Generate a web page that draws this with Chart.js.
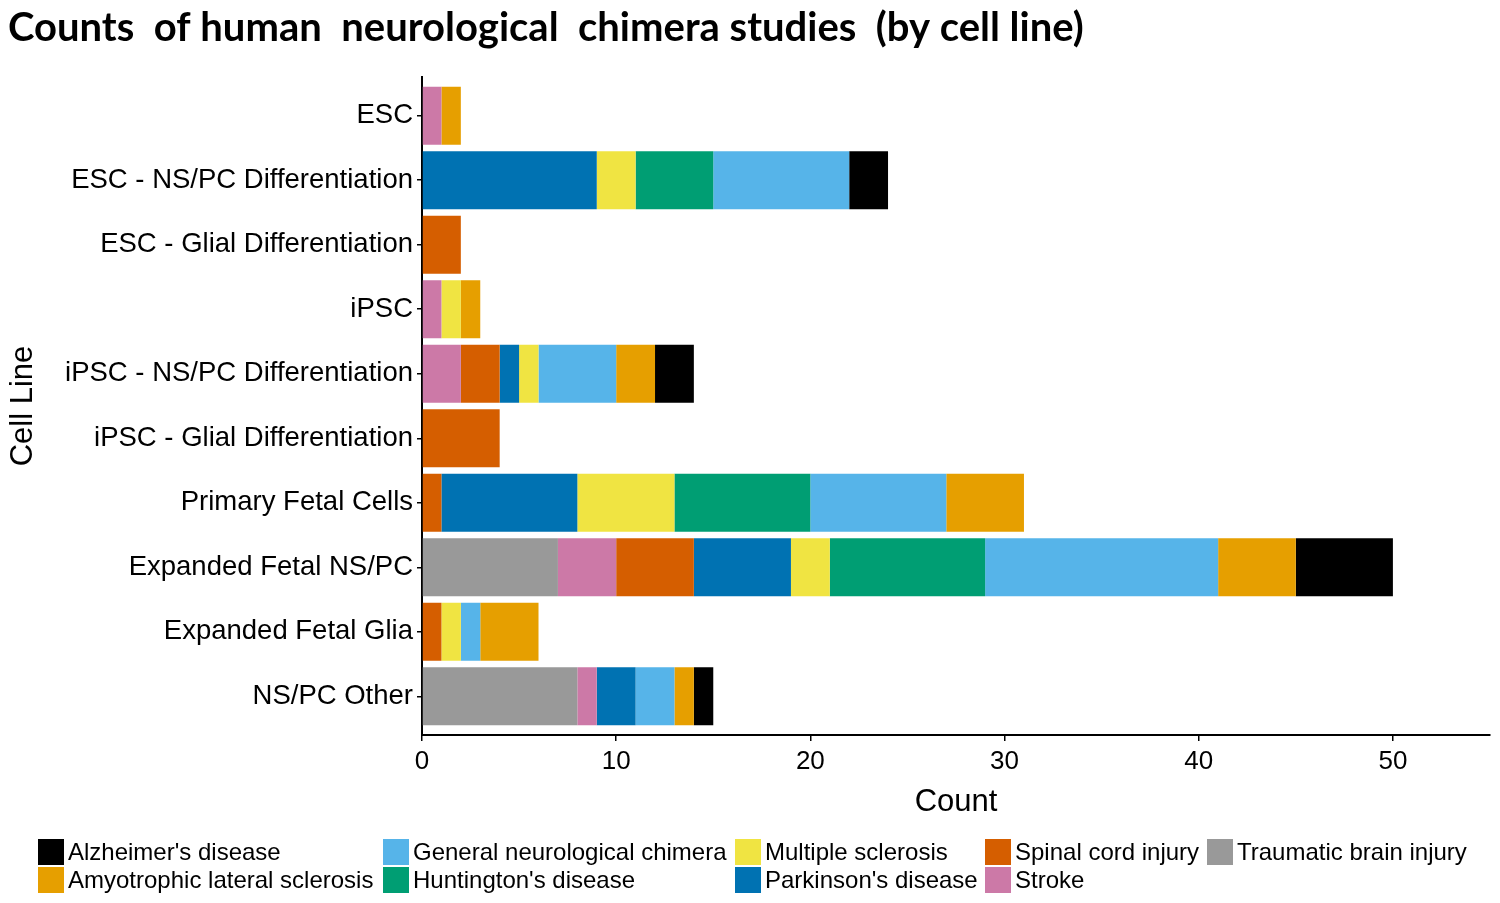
<!DOCTYPE html>
<html>
<head>
<meta charset="utf-8">
<script src="https://cdn.jsdelivr.net/npm/chart.js@4.4.1/dist/chart.umd.min.js"></script>
<style>
body { margin: 0; background: #fff; }
#wrap { position: relative; width: 1500px; height: 903px; }
#grafico { position: absolute; left: 0; top: 0; }
#legenda {
    position: absolute; left: 38px; top: 838px;
    display: grid;
    grid-template-columns: 345px 352px 250px 222px auto;
    grid-template-rows: 28px 28px;
    grid-auto-flow: column;
    font-family: "Liberation Sans", Arial, sans-serif;
    font-size: 24px; color: #000;
}
.item { display: flex; align-items: center; white-space: nowrap; }
.cor { width: 26px; height: 26px; margin-right: 4px; flex: none; }
</style>
</head>
<body>
<div id="wrap">
    <canvas id="grafico" width="1500" height="903"></canvas>
    <div id="legenda"></div>
</div>
<script>
// linhas celulares (de cima para baixo)
var cellLines = ['ESC', 'ESC - NS/PC Differentiation', 'ESC - Glial Differentiation', 'iPSC',
    'iPSC - NS/PC Differentiation', 'iPSC - Glial Differentiation', 'Primary Fetal Cells',
    'Expanded Fetal NS/PC', 'Expanded Fetal Glia', 'NS/PC Other'];

// contagens por doença, na mesma ordem das linhas
var traumaticBrain = [0, 0, 0, 0, 0, 0, 0, 7, 0, 8];
var stroke         = [1, 0, 0, 1, 2, 0, 0, 3, 0, 1];
var spinalCord     = [0, 0, 2, 0, 2, 4, 1, 4, 1, 0];
var parkinsons     = [0, 9, 0, 0, 1, 0, 7, 5, 0, 2];
var multipleScl    = [0, 2, 0, 1, 1, 0, 5, 2, 1, 0];
var huntingtons    = [0, 4, 0, 0, 0, 0, 7, 8, 0, 0];
var generalChim    = [0, 7, 0, 0, 4, 0, 7, 12, 1, 2];
var als            = [1, 0, 0, 1, 2, 0, 4, 4, 3, 1];
var alzheimers     = [0, 2, 0, 0, 2, 0, 0, 5, 0, 1];

var xTicks = [0, 10, 20, 30, 40, 50];

// ordem de empilhamento (da esquerda para a direita)
var datasets = [
    { label: 'Traumatic brain injury', data: traumaticBrain, backgroundColor: '#999999' },
    { label: 'Stroke', data: stroke, backgroundColor: '#CC79A7' },
    { label: 'Spinal cord injury', data: spinalCord, backgroundColor: '#D55E00' },
    { label: "Parkinson's disease", data: parkinsons, backgroundColor: '#0072B2' },
    { label: 'Multiple sclerosis', data: multipleScl, backgroundColor: '#F0E442' },
    { label: "Huntington's disease", data: huntingtons, backgroundColor: '#009E73' },
    { label: 'General neurological chimera', data: generalChim, backgroundColor: '#56B4E9' },
    { label: 'Amyotrophic lateral sclerosis', data: als, backgroundColor: '#E69F00' },
    { label: "Alzheimer's disease", data: alzheimers, backgroundColor: '#000000' }
];

var fonte = '"Liberation Sans", Arial, sans-serif';

var options = {
    responsive: false,
    animation: false,
    indexAxis: 'y',
    layout: { padding: { left: 8, right: 10, top: 0, bottom: 78 } },
    datasets: { bar: { categoryPercentage: 0.9, barPercentage: 1.0, borderWidth: 0 } },
    plugins: {
        legend: { display: false },
        tooltip: { enabled: false },
        title: {
            display: true,
            text: 'Counts  of human  neurological  chimera studies  (by cell line)',
            align: 'start',
            color: '#000',
            font: { family: 'Lato', weight: 'bold', size: 40, lineHeight: 1.2 },
            padding: { top: 4, bottom: 25 }
        }
    },
    scales: {
        x: {
            stacked: true,
            min: 0,
            max: 55,
            afterFit: function(scale) { scale.height = 90; },
            afterBuildTicks: function(scale) {
                scale.ticks = xTicks.map(v => ({ value: v }));
            },
            border: { display: true, color: '#000', width: 2 },
            grid: { display: true, drawOnChartArea: false, drawTicks: true, tickLength: 6, color: '#000', lineWidth: 1.5 },
            ticks: { color: '#000', padding: 5, font: { family: fonte, size: 26 } },
            title: {
                display: true, text: 'Count', color: '#000',
                font: { family: fonte, size: 31, lineHeight: 1.2 },
                padding: { top: 0, bottom: 4 }
            }
        },
        y: {
            stacked: true,
            // expansão de 0.6 categoria em cada ponta, como no ggplot
            afterBuildTicks: function(scale) {
                scale._startValue = -0.6;
                scale._valueRange = cellLines.length + 0.2;
            },
            afterFit: function(scale) { scale.width = 414; },
            border: { display: true, color: '#000', width: 2 },
            grid: { display: true, offset: false, drawOnChartArea: false, drawTicks: true, tickLength: 5, color: '#000', lineWidth: 1.5 },
            ticks: { color: '#000', padding: 4, font: { family: fonte, size: 27.5 } },
            title: {
                display: true, text: 'Cell Line', color: '#000',
                font: { family: fonte, size: 31, lineHeight: 1 },
                padding: { top: 0, bottom: 0 }
            }
        }
    }
};

var ctx = document.getElementById('grafico').getContext('2d');
var grafico = new Chart(ctx, {
    type: 'bar',
    data: { labels: cellLines, datasets: datasets },
    options: options
});

// legenda em colunas (ordem alfabética, preenchendo por coluna)
var ordemLegenda = ["Alzheimer's disease", 'Amyotrophic lateral sclerosis', 'General neurological chimera',
    "Huntington's disease", 'Multiple sclerosis', "Parkinson's disease", 'Spinal cord injury',
    'Stroke', 'Traumatic brain injury'];
var legenda = document.getElementById('legenda');
ordemLegenda.forEach(function(nome) {
    var ds = datasets.find(d => d.label == nome);
    var item = document.createElement('div');
    item.className = 'item';
    item.innerHTML = '<span class="cor" style="background:' + ds.backgroundColor + '"></span>' + nome;
    legenda.appendChild(item);
});
</script>
</body>
</html>
